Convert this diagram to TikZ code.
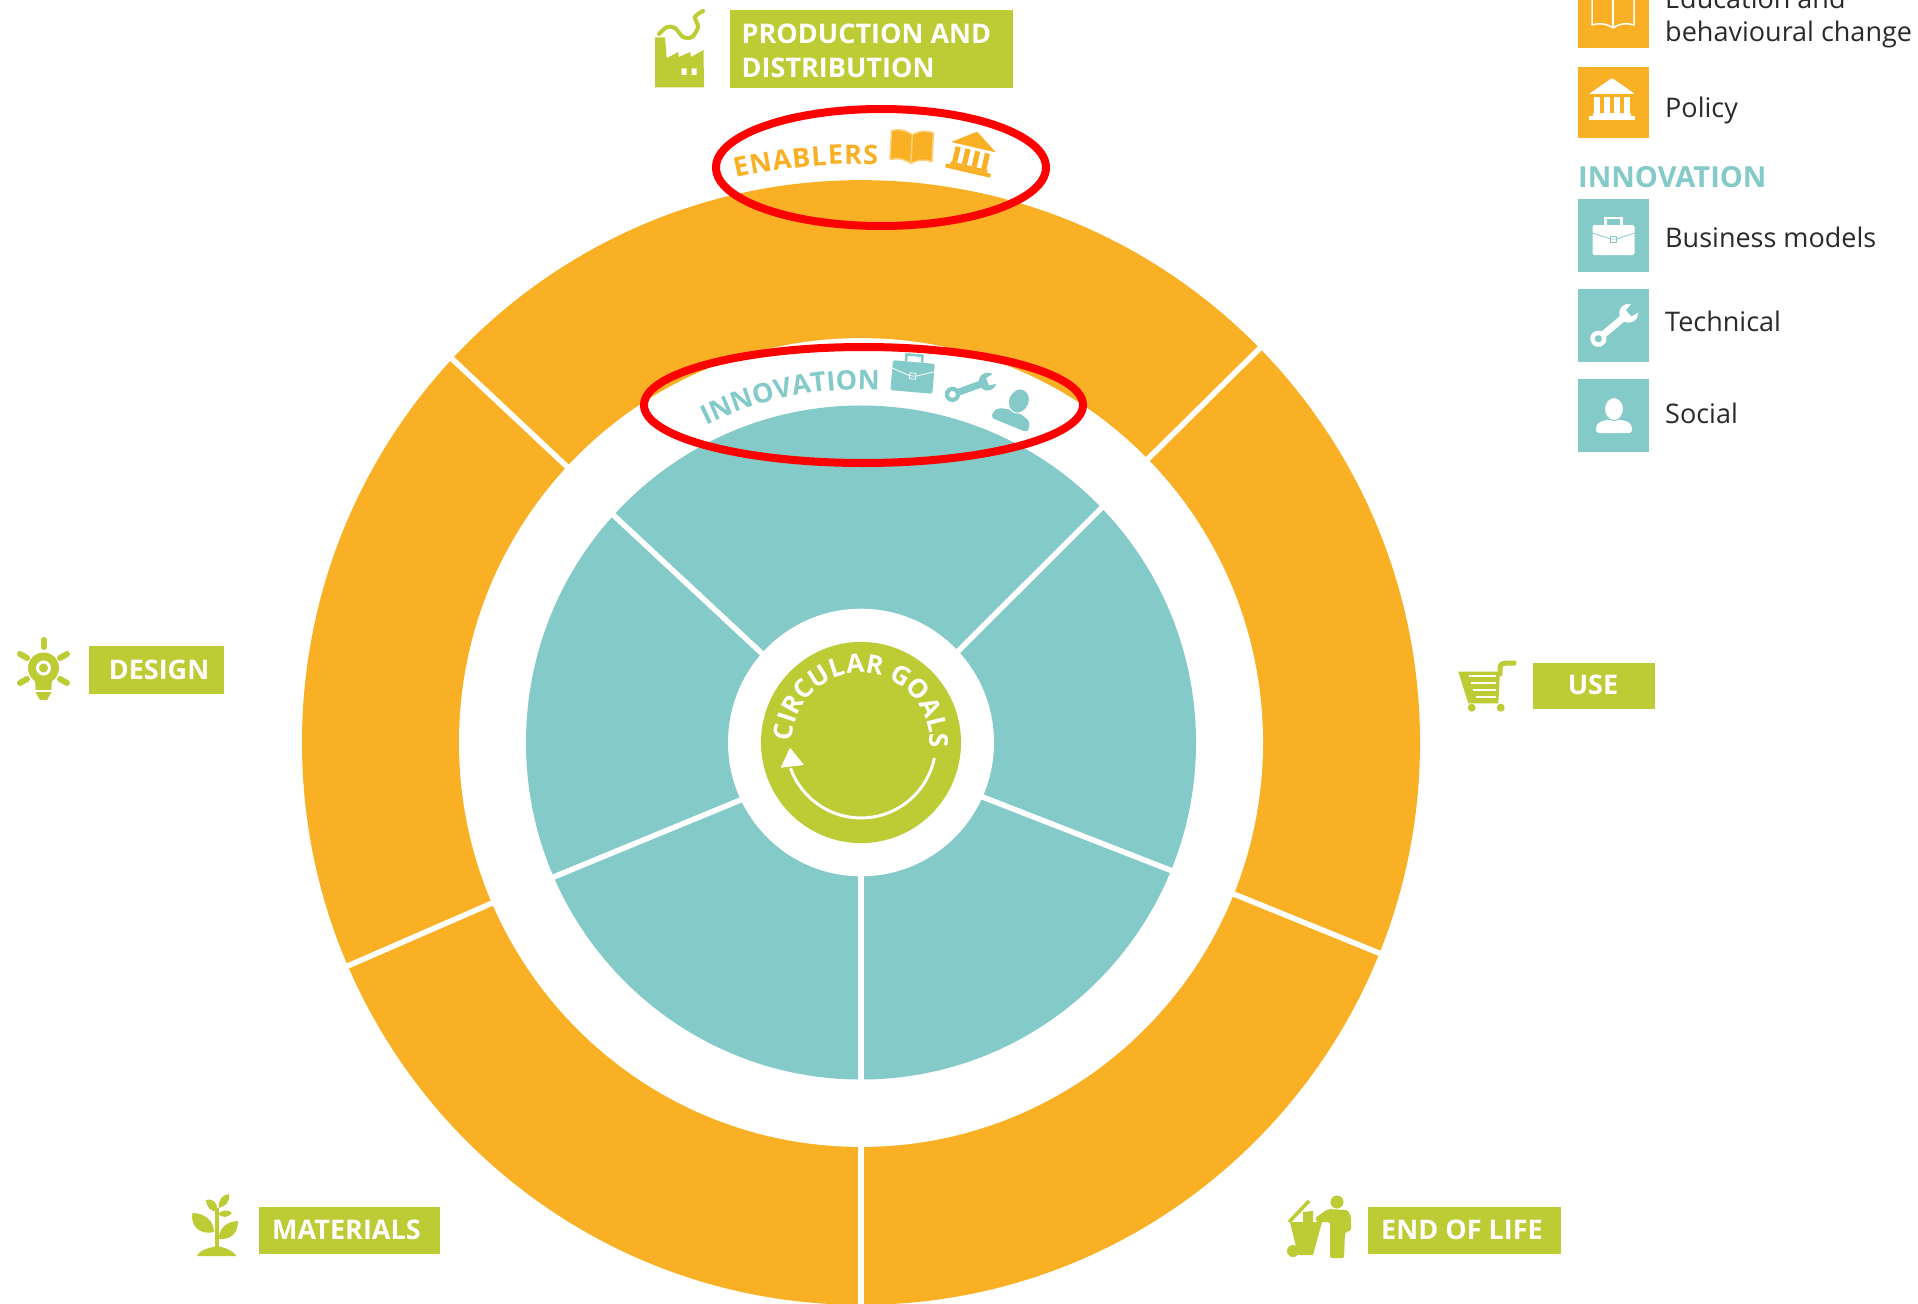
\documentclass[tikz,border=0pt]{standalone}
\usepackage{fontspec}
\usetikzlibrary{decorations.text}
\setmainfont{Open Sans}
\newcommand\semifont{\bfseries}
\definecolor{orangeC}{HTML}{FAB024}
\definecolor{tealC}{HTML}{83CAC8}
\definecolor{greenC}{HTML}{BDCB35}
\definecolor{inkC}{HTML}{2A2A2A}
\newcommand\labelfont{\semifont\fontsize{27}{33}\selectfont}
\newcommand\legendfont{\fontsize{27}{33}\selectfont}
\newcommand\placeicon[5]{\begin{scope}[shift={(#1,#2)},rotate=#3,scale=#4]#5\end{scope}}
\newcommand\ibook[2]{%
  \draw[#1,line width=1.5,fill=#2,line join=round] (0,-12) .. controls (-8,-17) and (-15,-17) .. (-21,-15) -- (-21,14) .. controls (-15,12) and (-7,12) .. (0,17) .. controls (7,12) and (15,12) .. (21,14) -- (21,-15) .. controls (15,-17) and (8,-17) .. (0,-12) -- cycle;
  \draw[#1,line width=1.5] (0,-12) -- (0,17);}
\newcommand\ibank[1]{%
  \fill[#1,rounded corners=1] (0,-24) -- (23,-8) -- (-23,-8) -- cycle;
  \foreach \xx in {-15,-5,5,15}{\fill[#1] (\xx-2.6,-5) rectangle (\xx+2.6,11);}
  \fill[#1] (-19,11) rectangle (19,14);
  \fill[#1] (-23,14) rectangle (23,18);}
\newcommand\icase[2]{%
  \draw[#1,line width=2.5] (-8,-11) -- (-8,-18) -- (8,-18) -- (8,-11);
  \fill[#1,rounded corners=2] (-21,-11) rectangle (21,19);
  \draw[#2,line width=0.8] (-21,-3) -- (-3,3) -- (3,3) -- (21,-3);
  \draw[#2,line width=0.8] (-3,0) rectangle (3,6);}
\newcommand\iwrench[2]{%
  \draw[#1,line width=7] (-22,0) -- (18,0);
  \fill[#1] (-22,0) circle (9);
  \fill[#2] (-22,0) circle (4);
  \fill[#1] (22,0) circle (10.5);
  \fill[#2] (22,-4.5) -- (36,-7) -- (36,7) -- (22,4.5) -- cycle;}
\newcommand\iperson[2]{%
  \fill[#1,rounded corners=3] (-18,17) -- (-18,10) .. controls (-14,5) and (-8,4) .. (0,3) .. controls (8,4) and (14,5) .. (18,10) -- (18,17) -- cycle;
  \draw[#2,line width=1,fill=#1] (0,-7) ellipse (9.5 and 11.5);}
\tikzset{
  divider/.style={white,line width=5.5},
  greenbox/.style={fill=greenC,draw=none},
  boxlabel/.style={white,font=\labelfont,inner sep=0},
  legendlabel/.style={inkC,font=\legendfont,inner sep=0,anchor=base west},
  ring/.style={red,line width=8},
  swatchO/.style={fill=orangeC,draw=none},
  swatchT/.style={fill=tealC,draw=none},
}
\begin{document}
\begin{tikzpicture}[x=1pt,y=-1pt]
\clip (0,0) rectangle (1918,1303);
\fill[white] (0,0) rectangle (1918,1303);
% wheel
\begin{scope}[shift={(861,742.5)},yscale=1.006]
  \fill[orangeC] (0,0) circle (559);
  \fill[white] (0,0) circle (402);
  \fill[tealC] (0,0) circle (335);
  \foreach \a in {-44.5,-137,22,156.6,90}{\draw[divider] (\a:398) -- (\a:563);}
  \foreach \a/\b in {-43/-44.1,-138.3/-137.6,24.2/22.3,154.4/156.5,90/90}{\draw[divider] (\a:125) -- (\b:337);}
  \fill[white] (0,0) circle (133);
  \fill[greenC] (0,0) circle (100);
  \path[decorate,decoration={text along path,text align=fit to path,text={|\semifont\fontsize{27}{30}\selectfont\color{orangeC}|ENABLERS}}] (-102.6:575) arc[start angle=-102.6,end angle=-88.3,radius=575];
  \path[decorate,decoration={text along path,text align=fit to path,text={|\semifont\fontsize{27}{30}\selectfont\color{tealC}|INNOVATION}}] (-116.1:351) arc[start angle=-116.1,end angle=-88.1,radius=351];
  \path[decorate,decoration={text along path,text align=fit to path,text={|\semifont\fontsize{26}{29}\selectfont\color{white}|CIRCULAR GOALS}}] (-179:69) arc[start angle=-179,end angle=2,radius=69];
  \draw[white,line width=3] (12:75) arc[start angle=12,end angle=160,radius=75];
\end{scope}
\fill[white] (790,747.7) -- (780.7,767.7) -- (804,765) -- cycle;
% curved icons
\placeicon{911.7}{146.7}{-3}{1}{\ibook{orangeC!60}{orangeC}}
\placeicon{971.7}{155}{-13}{1}{\ibank{orangeC}}
\placeicon{913}{373}{-5}{1}{\icase{tealC}{white}}
\placeicon{970}{388}{20}{0.85}{\iwrench{tealC}{white}}
\placeicon{1016}{408}{-22}{1.08}{\iperson{tealC}{white}}
% production
\fill[greenC] (655,37.3) -- (665,37.3) -- (666.7,58.3) -- (678,52) -- (679,57) -- (690,52) -- (691,57) -- (703.5,50) -- (704,87.3) -- (655,87.3) -- cycle;
\fill[white] (681.7,68.3) rectangle (686.7,75) (691.7,68.3) rectangle (696.7,75);
\draw[greenC,line width=4,line cap=round] plot[smooth] coordinates {(659,34) (667,27) (675,28) (683,37) (692,37) (698,27) (695,17) (703,11)};
\path[greenbox] (730,10) rectangle (1013,88);
\node[boxlabel,anchor=base west] (prod1) at (741.5,44) {PRODUCTION AND};
\node[boxlabel,anchor=base west] (prod2) at (741.5,78) {DISTRIBUTION};
% design
\fill[greenC] (43.5,668) circle (15.5);
\fill[greenC] (35,680) -- (52,680) -- (51,693) -- (36,693) -- cycle;
\fill[greenC] (36,693) -- (51,693) -- (47,700) -- (40,700) -- cycle;
\draw[white,line width=2.5] (36,691) -- (51,691);
\draw[white,line width=3] (43.5,668) circle (6);
\draw[greenC,line width=6,line cap=round] (43.5,640) -- (43.5,647);
\draw[greenC,line width=6,line cap=round] (20,654) -- (27,658);
\draw[greenC,line width=6,line cap=round] (67,654) -- (60,658);
\draw[greenC,line width=6,line cap=round] (20,683) -- (27,679);
\draw[greenC,line width=6,line cap=round] (67,683) -- (60,679);
\path[greenbox] (89,646) rectangle (224,694);
\node[boxlabel,anchor=base] (design) at (159,679) {DESIGN};
% use
\fill[greenC] (1458.3,671.7) -- (1500,671.7) -- (1498.3,703.3) -- (1468.3,703.3) -- cycle;
\foreach \yy/\xa in {676/1469,683/1471,690/1473,697/1476}{\draw[white,line width=1.5] (\xa,\yy) -- (1496,\yy);}
\draw[greenC,line width=5,line cap=round] (1500,674) -- (1500,668) .. controls (1500,664) and (1503,663) .. (1506,663) -- (1514,663);
\fill[greenC] (1471.7,707.7) circle (4) (1500.7,707.7) circle (4);
\path[greenbox] (1533,663) rectangle (1655,709);
\node[boxlabel,anchor=base] (use) at (1593,694) {USE};
% materials
\draw[greenC,line width=4.5] (217,1208) -- (217,1250);
\fill[greenC] (196.7,1256) .. controls (200,1250) and (208,1248) .. (217,1246) .. controls (226,1248) and (232,1250) .. (236.7,1256) -- cycle;
\fill[greenC] (192.5,1213) .. controls (206,1213) and (214,1222) .. (214,1232) .. controls (202,1235) and (190,1228) .. (192.5,1213) -- cycle;
\fill[greenC] (238,1221) .. controls (226,1221) and (218,1230) .. (219,1239) .. controls (230,1240) and (238,1234) .. (238,1221) -- cycle;
\fill[greenC] (206,1200) .. controls (214,1198) and (218,1204) .. (217,1211) .. controls (211,1212) and (207,1208) .. (206,1200) -- cycle;
\fill[greenC] (229,1194) .. controls (222,1195) and (218,1200) .. (219,1208) .. controls (226,1206) and (230,1202) .. (229,1194) -- cycle;
\fill[greenC] (232,1213) .. controls (228,1209) and (222,1210) .. (218,1214) .. controls (222,1218) and (228,1218) .. (232,1213) -- cycle;
\path[greenbox] (259,1207) rectangle (440,1254);
\node[boxlabel,anchor=base west] (mat) at (272,1239) {MATERIALS};
% end of life
\fill[greenC] (1337,1202) circle (6.5);
\fill[greenC,rounded corners=2] (1328,1209) -- (1348,1210) -- (1351,1217) -- (1351,1231) -- (1345,1232) -- (1344,1258) -- (1330,1258) -- (1330,1222) -- (1316,1222) -- (1315,1218) -- cycle;
\fill[greenC] (1290,1222) -- (1322,1222) -- (1313,1255) -- (1298,1255) -- cycle;
\fill[greenC] (1303,1212) -- (1313,1211) -- (1313,1222) -- (1303,1222) -- cycle;
\draw[greenC,line width=3.5] (1289,1222) -- (1309,1201);
\fill[greenC] (1293,1251) circle (6);
\path[greenbox] (1368,1207) rectangle (1561,1254);
\node[boxlabel,anchor=base west] (eol) at (1381,1239) {END OF LIFE};
% legend
\path[swatchO] (1578,-23) rectangle (1649,48);
\placeicon{1613}{11}{0}{1}{\ibook{white}{orangeC}}
\node[legendlabel] (edu1) at (1665,9) {Education and};
\node[legendlabel] (edu2) at (1665,42) {behavioural change};
\path[swatchO] (1578,67) rectangle (1649,138);
\placeicon{1612}{102}{0}{1}{\ibank{white}}
\node[legendlabel] (policy) at (1665,117.5) {Policy};
\node[anchor=base west,inner sep=0,tealC,font=\semifont\fontsize{29}{33}\selectfont] (innov) at (1578,187) {INNOVATION};
\path[swatchT] (1578,199) rectangle (1649,272);
\placeicon{1613.5}{236}{0}{1}{\icase{white}{tealC}}
\node[legendlabel] (bus) at (1665,247) {Business models};
\path[swatchT] (1578,289) rectangle (1649,362);
\placeicon{1613.5}{326}{40}{0.9}{\iwrench{white}{tealC}}
\node[legendlabel] (tech) at (1665,331) {Technical};
\path[swatchT] (1578,379) rectangle (1649,452);
\placeicon{1614}{416}{0}{1}{\iperson{white}{tealC}}
\node[legendlabel] (social) at (1665,423) {Social};
% red rings
\draw[ring] (881,167.5) ellipse (165 and 58.5);
\draw[ring] (863.5,405) ellipse (219.5 and 58);
\end{tikzpicture}
\end{document}
